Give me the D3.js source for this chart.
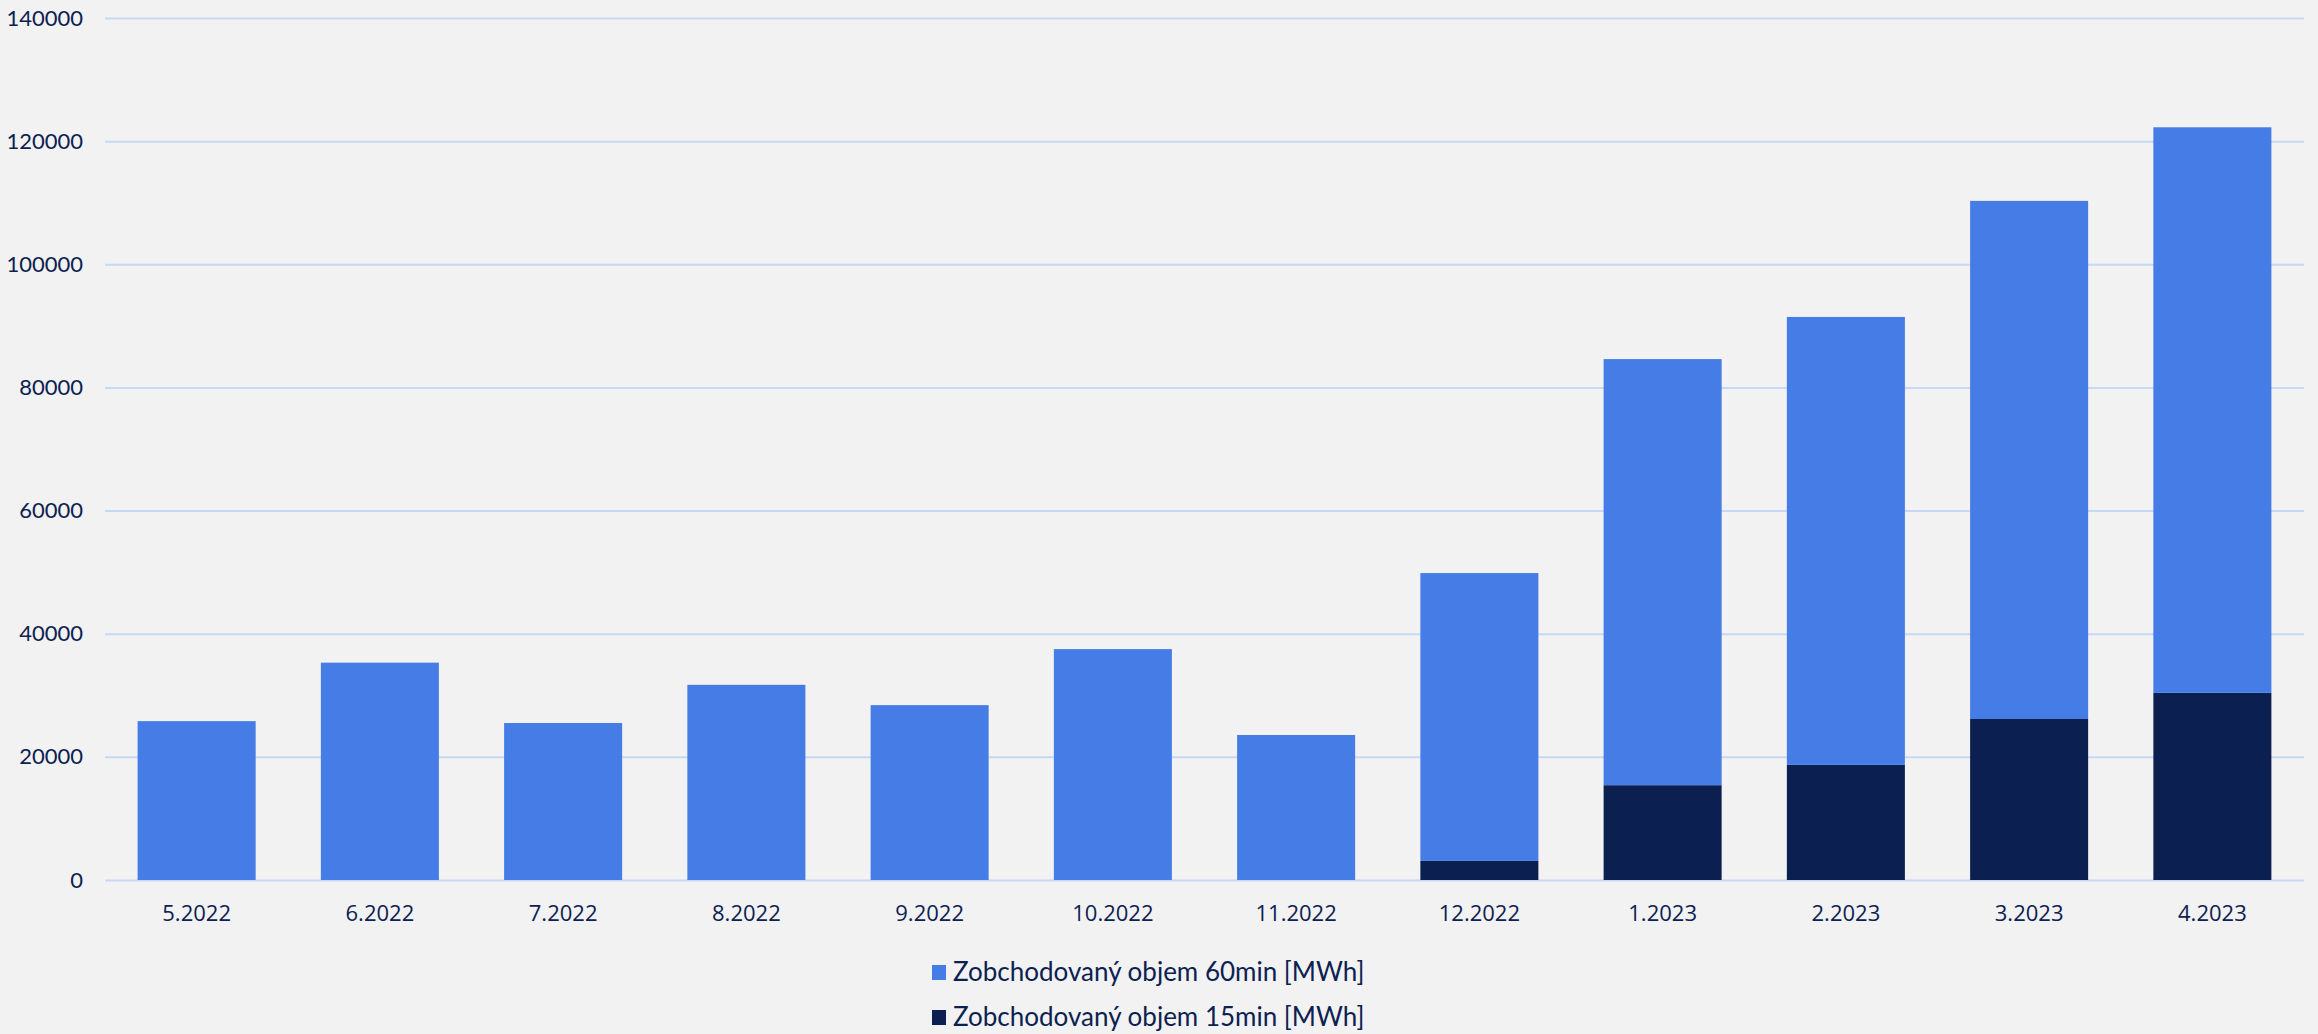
<!DOCTYPE html>
<html>
<head>
<meta charset="utf-8">
<script src="https://cdn.jsdelivr.net/npm/d3@7"></script>
<style>
  body { margin: 0; background: #f2f2f2; }
  .tick text { fill: #0c2150; }
</style>
</head>
<body>
<div id="chart"></div>
<script>
// data
var months = ["5.2022", "6.2022", "7.2022", "8.2022", "9.2022", "10.2022",
              "11.2022", "12.2022", "1.2023", "2.2023", "3.2023", "4.2023"];
var vol60 = [25800, 35300, 25500, 31700, 28400, 37500, 23550, 46750, 69200, 72750, 84150, 91850];
var vol15 = [0, 0, 0, 0, 0, 0, 0, 3100, 15400, 18700, 26150, 30400];
var yTicks = [0, 20000, 40000, 60000, 80000, 100000, 120000, 140000];
var seriesNames = ["Zobchodovaný objem 60min [MWh]", "Zobchodovaný objem 15min [MWh]"];

var svgWidth = 2318;
var svgHeight = 1034;
var margin = { top: 18, right: 14, bottom: 154, left: 105 };
var width = svgWidth - margin.left - margin.right;
var height = svgHeight - margin.top - margin.bottom;

var colors = { m60: "#457ce6", m15: "#0b2050" };

var svg = d3.select("#chart")
  .append("svg")
  .attr("width", svgWidth)
  .attr("height", svgHeight)
  .style("background", "#f2f2f2");

var chartGroup = svg.append("g")
  .attr("transform", `translate(${margin.left}, ${margin.top})`);

var rows = months.map(function(m, i) {
  return { month: m, m15: vol15[i], m60: vol60[i] };
});

var stacked = d3.stack().keys(["m15", "m60"])(rows);

var x = d3.scaleBand()
  .domain(months)
  .range([0, width])
  .paddingInner(0.356)
  .paddingOuter(0.178);

var y = d3.scaleLinear()
  .domain([0, 140000])
  .range([height, 0]);

// gridlines
chartGroup.append("g")
  .call(d3.axisLeft(y).tickValues(yTicks).tickSize(-width).tickFormat(""))
  .call(g => g.select(".domain").remove())
  .call(g => g.selectAll("line").attr("stroke", "#c6d8f5").attr("stroke-width", 2));

// bars
chartGroup.selectAll(".series")
  .data(stacked)
  .enter()
  .append("g")
  .attr("fill", d => colors[d.key])
  .selectAll("rect")
  .data(d => d.filter(p => p[1] - p[0] > 0))
  .enter()
  .append("rect")
  .attr("x", d => x(d.data.month))
  .attr("width", x.bandwidth())
  .attr("y", d => y(d[1]))
  .attr("height", d => y(d[0]) - y(d[1]));

// y axis labels
chartGroup.append("g")
  .attr("transform", "translate(-22, 0)")
  .call(d3.axisLeft(y).tickValues(yTicks).tickSize(0).tickPadding(0).tickFormat(d3.format("d")))
  .call(g => g.select(".domain").remove())
  .selectAll("text")
  .style("font-family", "Lato, sans-serif")
  .style("font-size", "22px");

// x axis labels
chartGroup.append("g")
  .attr("transform", `translate(0, ${height})`)
  .call(d3.axisBottom(x).tickSize(0).tickPadding(25))
  .call(g => g.select(".domain").remove())
  .selectAll("text")
  .style("font-family", "'Open Sans', sans-serif")
  .style("font-size", "22px");

// legend
var legend = svg.append("g")
  .attr("transform", "translate(932, 965)");

var legendItems = [
  { name: seriesNames[0], color: colors.m60 },
  { name: seriesNames[1], color: colors.m15 }
];

var item = legend.selectAll(".item")
  .data(legendItems)
  .enter()
  .append("g")
  .attr("transform", (d, i) => `translate(0, ${i * 45})`);

item.append("rect")
  .attr("width", 14)
  .attr("height", 15)
  .attr("fill", d => d.color);

item.append("text")
  .attr("x", 21)
  .attr("y", 16)
  .attr("fill", "#0c2150")
  .style("font-family", "Lato, sans-serif")
  .style("font-size", "26px")
  .text(d => d.name);
</script>
</body>
</html>
